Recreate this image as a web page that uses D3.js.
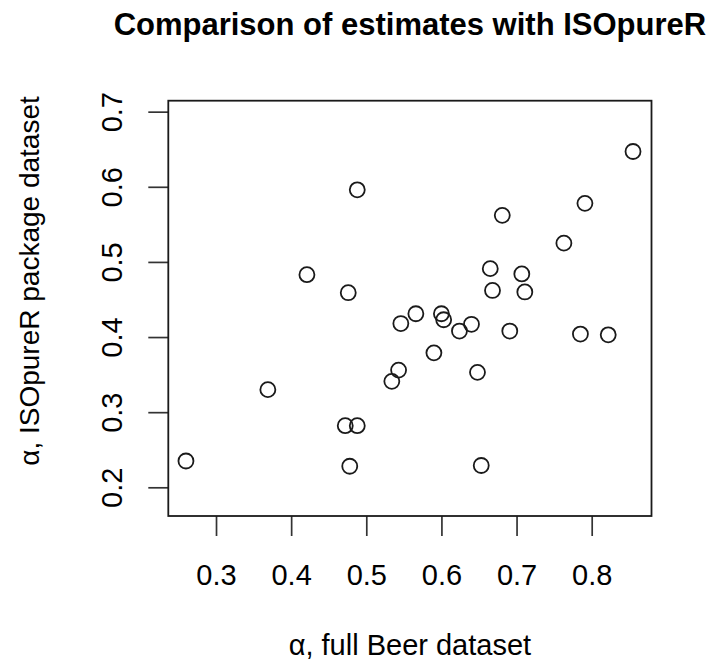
<!DOCTYPE html>
<html>
<head>
<meta charset="utf-8">
<script src="https://cdn.jsdelivr.net/npm/d3@7"></script>
<style>
  html, body { margin: 0; padding: 0; background: #fff; }
  svg { display: block; font-family: "Liberation Sans", Arial, Helvetica, sans-serif; }
</style>
</head>
<body>
<svg id="chart" width="712" height="662"></svg>
<script>
// ---- data ----
const title = "Comparison of estimates with ISOpureR";
const xLabel = "\u03B1, full Beer dataset";
const yLabel = "\u03B1, ISOpureR package dataset";
const xTicks = [0.3, 0.4, 0.5, 0.6, 0.7, 0.8];
const yTicks = [0.2, 0.3, 0.4, 0.5, 0.6, 0.7];
const fullBeer = [0.855, 0.488, 0.791, 0.681, 0.763, 0.665, 0.707, 0.421, 0.668, 0.711,
                  0.476, 0.566, 0.600, 0.603, 0.546, 0.640, 0.624, 0.691, 0.785, 0.822,
                  0.590, 0.543, 0.648, 0.534, 0.369, 0.472, 0.488, 0.260, 0.478, 0.653];
const isopureR = [0.647, 0.596, 0.578, 0.562, 0.525, 0.491, 0.484, 0.483, 0.462, 0.460,
                  0.459, 0.431, 0.431, 0.423, 0.418, 0.417, 0.408, 0.408, 0.404, 0.403,
                  0.379, 0.356, 0.353, 0.341, 0.330, 0.282, 0.282, 0.235, 0.228, 0.229];

// ---- layout ----
const box = { left: 168.3, right: 651.5, top: 100.7, bottom: 516 };
const svg = d3.select("#chart");
const ink = "#1a1a1a";

const x = d3.scaleLinear().domain([0.2365, 0.8796]).range([box.left, box.right]);
const y = d3.scaleLinear().domain([0.1618, 0.7146]).range([box.bottom, box.top]);

// title
svg.append("text")
  .attr("x", (box.left + box.right) / 2)
  .attr("y", 35)
  .attr("text-anchor", "middle")
  .attr("font-size", 31)
  .attr("font-weight", "bold")
  .attr("fill", "#000")
  .text(title);

// x axis
const gx = svg.append("g")
  .attr("transform", `translate(0,${box.bottom})`)
  .call(d3.axisBottom(x).tickValues(xTicks).tickFormat(d3.format(".1f")).tickSize(20).tickPadding(30));
gx.select(".domain").remove();
gx.selectAll(".tick line").attr("stroke", "#333").attr("stroke-width", 1.7);
gx.selectAll(".tick text")
  .attr("font-size", 29)
  .attr("font-family", "Liberation Sans, Arial, sans-serif")
  .attr("fill", "#000")
  .attr("dy", null)
  .attr("y", 69);

// y axis
const gy = svg.append("g")
  .attr("transform", `translate(${box.left},0)`)
  .call(d3.axisLeft(y).tickValues(yTicks).tickFormat(d3.format(".1f")).tickSize(20));
gy.select(".domain").remove();
gy.selectAll(".tick line").attr("stroke", "#333").attr("stroke-width", 1.7);
gy.selectAll(".tick text")
  .attr("font-size", 29)
  .attr("font-family", "Liberation Sans, Arial, sans-serif")
  .attr("fill", "#000")
  .attr("x", null)
  .attr("dy", null)
  .attr("text-anchor", "middle")
  .attr("transform", `translate(${122 - box.left},0) rotate(-90)`);

// box
svg.append("rect")
  .attr("x", box.left).attr("y", box.top)
  .attr("width", box.right - box.left).attr("height", box.bottom - box.top)
  .attr("fill", "none").attr("stroke", ink).attr("stroke-width", 1.8);

// points
svg.append("g").selectAll("circle")
  .data(fullBeer.map((v, i) => [v, isopureR[i]]))
  .join("circle")
  .attr("cx", d => x(d[0]))
  .attr("cy", d => y(d[1]))
  .attr("r", 7.5)
  .attr("fill", "none")
  .attr("stroke", ink)
  .attr("stroke-width", 1.8);

// axis titles
svg.append("text")
  .attr("x", (box.left + box.right) / 2)
  .attr("y", 655)
  .attr("text-anchor", "middle")
  .attr("font-size", 29)
  .attr("fill", "#000")
  .text(xLabel);

svg.append("text")
  .attr("transform", `translate(39,281) rotate(-90)`)
  .attr("text-anchor", "middle")
  .attr("font-size", 28)
  .attr("fill", "#000")
  .text(yLabel);
</script>
</body>
</html>
